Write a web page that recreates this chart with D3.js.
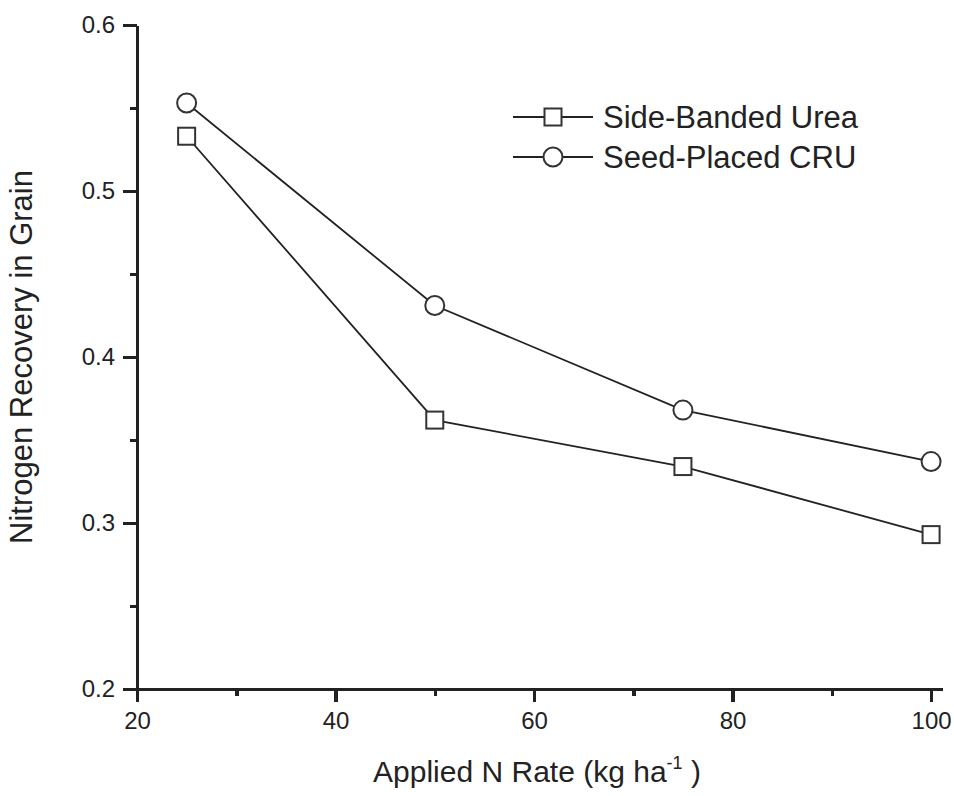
<!DOCTYPE html>
<html>
<head>
<meta charset="utf-8">
<script src="https://cdn.jsdelivr.net/npm/d3@7/dist/d3.min.js"></script>
<style>
  html, body { margin: 0; padding: 0; background: #fff; }
  svg { display: block; }
  text { font-family: "Liberation Sans", Arial, Helvetica, sans-serif; fill: #222; }
  .axis path, .axis line { stroke: #222 !important; stroke-width: 3.5px !important; shape-rendering: crispEdges; }
</style>
</head>
<body>
<svg id="chart" width="954" height="796"></svg>
<script>
const rates = [25, 50, 75, 100];
const sideBandedUrea = [0.533, 0.362, 0.334, 0.293];
const seedPlacedCRU = [0.553, 0.431, 0.368, 0.337];
const seriesNames = ["Side-Banded Urea", "Seed-Placed CRU"];
const xMajorTicks = [20, 40, 60, 80, 100];
const xMinorTicks = [30, 50, 70, 90];
const yMajorTicks = [0.2, 0.3, 0.4, 0.5, 0.6];
const yMinorTicks = [0.25, 0.35, 0.45, 0.55];

const svg = d3.select("#chart");
const ink = "#222";

const x = d3.scaleLinear().domain([20, 101.1]).range([137, 942]);
const y = d3.scaleLinear().domain([0.2, 0.6]).range([689, 25]);

// X axis
const gx = svg.append("g").attr("class", "axis").attr("transform", `translate(0,${y(0.2)})`);
gx.call(d3.axisBottom(x).tickValues(xMajorTicks).tickFormat(d3.format("d")).tickSize(13).tickSizeOuter(0).tickPadding(10));
gx.append("g").attr("class", "axis").call(d3.axisBottom(x).tickValues(xMinorTicks).tickFormat("").tickSize(7).tickSizeOuter(0))
  .select(".domain").remove();

// Y axis
const gy = svg.append("g").attr("class", "axis").attr("transform", `translate(${x(20)},0)`);
gy.call(d3.axisLeft(y).tickValues(yMajorTicks).tickFormat(d3.format(".1f")).tickSize(14).tickSizeOuter(0).tickPadding(8));
gy.append("g").attr("class", "axis").call(d3.axisLeft(y).tickValues(yMinorTicks).tickFormat("").tickSize(7).tickSizeOuter(0))
  .select(".domain").remove();

svg.selectAll(".tick text").style("font-size", "24px").style("fill", ink)
  .style("font-family", '"Liberation Sans", Arial, sans-serif');

// Axis titles
const xt = svg.append("text").attr("x", 537).attr("y", 782).attr("text-anchor", "middle")
  .attr("font-size", 30);
xt.append("tspan").text("Applied N Rate (kg ha");
xt.append("tspan").attr("font-size", 18).attr("dy", -13).text("-1");
xt.append("tspan").attr("dy", 13).text(" )");

svg.append("text").attr("transform", "translate(32,357) rotate(-90)")
  .attr("text-anchor", "middle").attr("font-size", 31).text("Nitrogen Recovery in Grain");

// Lines
const line = d3.line().x((d, i) => x(rates[i])).y(d => y(d));
[sideBandedUrea, seedPlacedCRU].forEach(s => {
  svg.append("path").datum(s).attr("d", line).attr("fill", "none")
    .attr("stroke", ink).attr("stroke-width", 1.8);
});

// Markers
const sq = 17, r = 9.5;
svg.selectAll("rect.m").data(sideBandedUrea).enter().append("rect")
  .attr("x", (d, i) => x(rates[i]) - sq / 2).attr("y", d => y(d) - sq / 2)
  .attr("width", sq).attr("height", sq)
  .attr("fill", "#fff").attr("stroke", "#333").attr("stroke-width", 2);
svg.selectAll("circle.m").data(seedPlacedCRU).enter().append("circle")
  .attr("cx", (d, i) => x(rates[i])).attr("cy", d => y(d)).attr("r", r)
  .attr("fill", "#fff").attr("stroke", "#333").attr("stroke-width", 2);

// Legend
const lg = svg.append("g");
seriesNames.forEach((name, i) => {
  const cy = 117 + i * 40;
  lg.append("line").attr("x1", 513).attr("x2", 593).attr("y1", cy).attr("y2", cy)
    .attr("stroke", ink).attr("stroke-width", 1.8);
  if (i === 0) {
    lg.append("rect").attr("x", 553 - sq / 2).attr("y", cy - sq / 2).attr("width", sq).attr("height", sq)
      .attr("fill", "#fff").attr("stroke", "#333").attr("stroke-width", 2);
  } else {
    lg.append("circle").attr("cx", 553).attr("cy", cy).attr("r", r)
      .attr("fill", "#fff").attr("stroke", "#333").attr("stroke-width", 2);
  }
  lg.append("text").attr("x", 603).attr("y", cy + 11).attr("font-size", 31).text(name);
});
</script>
</body>
</html>
